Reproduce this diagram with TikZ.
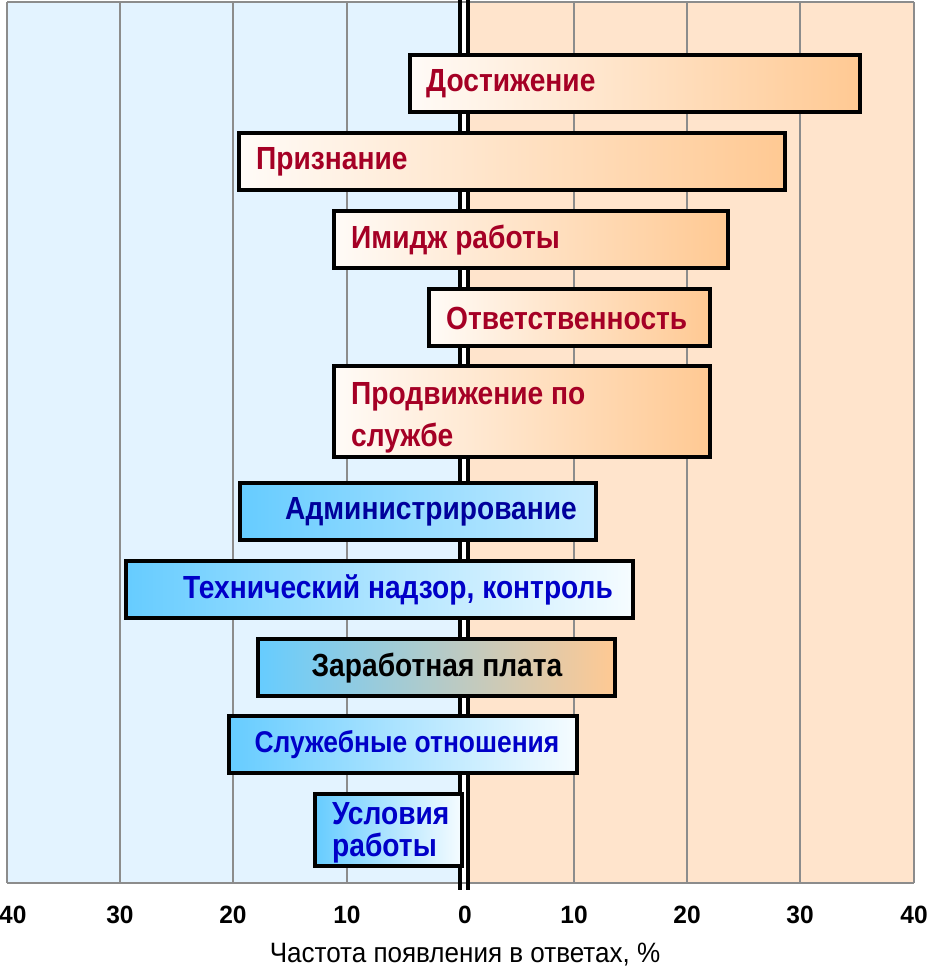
\documentclass[tikz,border=0pt]{standalone}
\usepackage{fontspec}
\setmainfont{Liberation Sans}
\newfontfamily\barfont[FakeStretch=0.88]{Liberation Sans}
\newfontfamily\axfont[FakeStretch=0.98]{Liberation Sans}
\newfontfamily\ttlfont[FakeStretch=0.93]{Liberation Sans}
\definecolor{bgblue}{HTML}{E3F3FF}
\definecolor{bgpeach}{HTML}{FFE4CC}
\definecolor{gridgray}{HTML}{8C8C8C}
\definecolor{txred}{HTML}{A50025}
\definecolor{txblue}{HTML}{0000C8}
\definecolor{txnavy}{HTML}{00009C}
\definecolor{barorange}{HTML}{FFC993}
\definecolor{barlight}{HTML}{FFFBF7}
\definecolor{barblue}{HTML}{66CCFF}
\definecolor{endadmin}{HTML}{C6EBFF}
\definecolor{endwhite}{HTML}{F6FCFF}
\begin{document}
\begin{tikzpicture}[x=1pt,y=-1pt,
  bar/.style={draw=black, line width=4pt, rectangle, inner sep=0pt, minimum height=57pt},
  orangebar/.style={bar, left color=barlight, right color=barorange},
  bluebar/.style={bar, left color=barblue, right color=#1},
  lbl/.style={font=\barfont\bfseries\fontsize{32}{42}\selectfont, inner sep=0pt, align=left},
  gridline/.style={draw=gridgray, line width=2pt},
  tick/.style={font=\axfont\bfseries\fontsize{25}{30}\selectfont, inner sep=0pt}
]
\useasboundingbox (0,0) rectangle (934,970);
% backgrounds
\fill[bgblue] (7,2) rectangle (460,883);
\fill[bgpeach] (467,2) rectangle (914,883);
\fill[white] (460,0) rectangle (467,890);
% grid
\foreach \gx in {7,120,233,347,574,687,800,914}
  \draw[gridline] (\gx,2) -- (\gx,883);
\draw[gridline] (7,2) -- (914,2);
\draw[gridline] (7,883) -- (914,883);
% center double line
\draw[black, line width=3.8pt] (460,0) -- (460,890);
\draw[black, line width=3.8pt] (467.7,0) -- (467.7,890);
% bars
\node[orangebar, minimum width=450pt] (b1) at (635,83.5) {};
\node[lbl, text=txred, anchor=west] (t1) at (426,84) {Достижение};
\node[orangebar, minimum width=546pt] (b2) at (512,161.5) {};
\node[lbl, text=txred, anchor=west] (t2) at (256,162) {Признание};
\node[orangebar, minimum width=394pt] (b3) at (531,239.5) {};
\node[lbl, text=txred, anchor=west] (t3) at (351,240) {Имидж работы};
\node[orangebar, minimum width=281pt] (b4) at (569.5,317.5) {};
\node[lbl, text=txred, anchor=west] (t4) at (446,318) {Ответственность};
\node[orangebar, minimum width=376pt, minimum height=91pt] (b5) at (522,411.5) {};
\node[lbl, text=txred, anchor=west] (t5) at (351,418) {Продвижение по\\службе};
\node[bluebar=endadmin, minimum width=356pt] (b6) at (418,511.5) {};
\node[lbl, text=txnavy] (t6) at (431,512) {Администрирование};
\node[bluebar=endwhite, minimum width=507pt] (b7) at (379.5,589.5) {};
\node[lbl, text=txblue] (t7) at (398,590) {Технический надзор, контроль};
\node[bar, left color=barblue, right color=barorange, minimum width=357pt] (b8) at (436.5,667.5) {};
\node[lbl, text=black] (t8) at (437,668) {Заработная плата};
\node[bluebar=endwhite, minimum width=348pt] (b9) at (403,744.5) {};
\node[lbl, text=txblue, font=\barfont\bfseries\fontsize{30}{36}\selectfont] (t9) at (407,745) {Служебные отношения};
\node[bluebar=endwhite, minimum width=147pt, minimum height=72pt] (b10) at (388.5,830) {};
\node[lbl, text=txblue, anchor=west, font=\barfont\bfseries\fontsize{32}{32}\selectfont] (t10) at (332,833) {Условия\\работы};
% axis labels
\node[tick, anchor=west] (nl40) at (-1,915) {40};
\foreach \gx/\lab in {120/30,233/20,347/10,465/0,574/10,687/20,800/30,914/40}
  \node[tick] (n\gx) at (\gx,915) {\lab};
\node[font=\ttlfont\fontsize{28}{30}\selectfont, inner sep=0pt] (title) at (465,955) {Частота появления в ответах, \%};
\end{tikzpicture}
\end{document}
